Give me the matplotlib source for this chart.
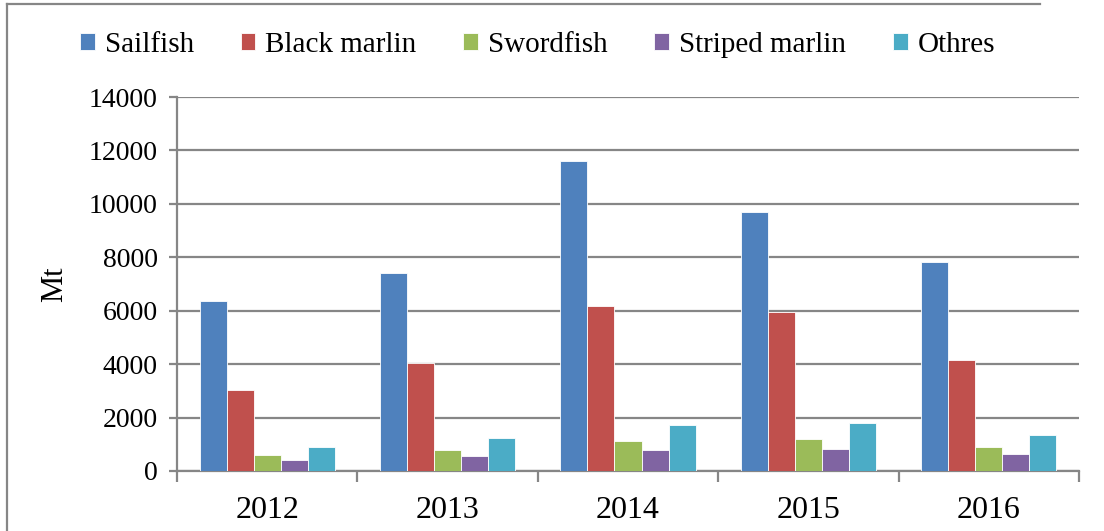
import numpy as np
import matplotlib
matplotlib.use("Agg")
import matplotlib.pyplot as plt
from matplotlib.lines import Line2D

plt.rcParams['font.family'] = ['Liberation Serif', 'DejaVu Serif']

# data
years = ["2012", "2013", "2014", "2015", "2016"]
species = ["Sailfish", "Black marlin", "Swordfish", "Striped marlin", "Othres"]
sailfish = [6350, 7400, 11620, 9700, 7830]
black_marlin = [3050, 4040, 6180, 5960, 4150]
swordfish = [600, 800, 1120, 1190, 900]
striped_marlin = [420, 570, 800, 820, 640]
others = [900, 1250, 1730, 1800, 1360]
yticks = [0, 2000, 4000, 6000, 8000, 10000, 12000, 14000]

colors = ["#4F81BD", "#C0504D", "#9BBB59", "#8064A2", "#4BACC6"]
series = [sailfish, black_marlin, swordfish, striped_marlin, others]

fig = plt.figure(figsize=(11.04, 5.31), dpi=100)
ax = fig.add_axes([0.1603, 0.1130, 0.8171, 0.7043])

x = np.arange(len(years))
w = 0.15
for i, (vals, c, name) in enumerate(zip(series, colors, species)):
    ax.bar(x + (i - 2) * w, vals, width=w, color=c, edgecolor="white",
           linewidth=0.6, label=name, zorder=3)

ax.set_xlim(-0.5, len(years) - 0.5)
ax.set_ylim(0, 14000)
ax.set_yticks(yticks)
ax.set_yticklabels([str(v) for v in yticks], fontsize=20)
ax.yaxis.grid(True, color="#868686", linewidth=1.6, zorder=0)

# x ticks at category boundaries, labels centred
ax.set_xticks(np.arange(-0.5, len(years)), minor=False)
ax.set_xticklabels([])
ax.set_xticks(x, minor=True)
ax.set_xticklabels(years, minor=True, fontsize=23)
ax.tick_params(axis="x", which="minor", length=0, pad=18)
ax.tick_params(axis="x", which="major", length=8, width=1.6, color="#868686", direction="out")
ax.tick_params(axis="y", length=6, width=1.6, color="#868686", direction="out", pad=8)

for s in ["top", "right"]:
    ax.spines[s].set_visible(False)
for s in ["left", "bottom"]:
    ax.spines[s].set_color("#868686")
    ax.spines[s].set_linewidth(1.6)

ax.set_ylabel("Mt", fontsize=22, labelpad=14)

leg = fig.legend(loc="center", bbox_to_anchor=(0.487, 0.916), ncol=5, frameon=False,
                 fontsize=21, handlelength=0.5, handleheight=0.5, handletextpad=0.35,
                 columnspacing=1.6)

# outer chart border (left and top edges visible)
fig.add_artist(Line2D([7 / 1104, 7 / 1104], [0, 1 - 4 / 531], transform=fig.transFigure,
                      color="#868686", linewidth=1.6))
fig.add_artist(Line2D([7 / 1104, 1040 / 1104], [1 - 4 / 531, 1 - 4 / 531], transform=fig.transFigure,
                      color="#868686", linewidth=1.6))

fig.savefig("out.png", dpi=100)
